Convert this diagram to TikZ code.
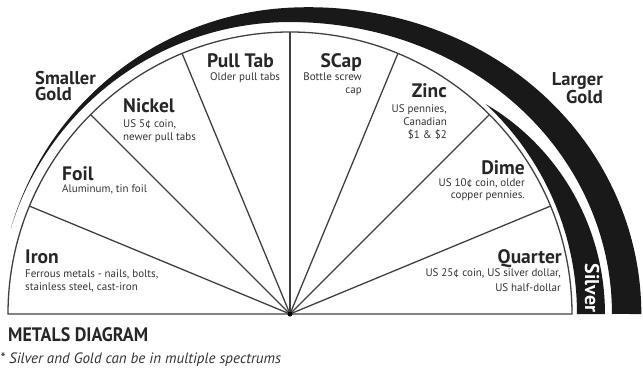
\documentclass[tikz,border=0pt]{standalone}
\usepackage{fontspec}
\setmainfont{PT Sans}
\newfontfamily\condfont[FakeStretch=0.92]{PT Sans}
\tikzset{
  head/.style={font=\fontsize{19.5}{15}\selectfont\bfseries, text=black!85, inner sep=0pt, text height=13.5pt, text depth=1pt},
  goldlab/.style={font=\fontsize{18.5}{16}\selectfont\bfseries, text=black!85, inner sep=0pt},
  sub/.style={font=\fontsize{11}{12}\selectfont, text=black!80, inner sep=0pt, text height=8pt, text depth=2pt},
  fan/.style={draw=black!75, line width=1.3pt},
  band/.style={fill=black!90},
  declare function={
    gin(\t)=292+30*max(cos(\t),0)*max(cos(\t),0);
    tg(\t)=15*(cos(\t)+0.9563);
    sout(\t)=287+28*(cos(\t)-0.6820)/0.318;
  }
}
\begin{document}
\begin{tikzpicture}[x=1pt,y=1pt]
\useasboundingbox (0,0) rectangle (643,-369);
\coordinate (c) at (290,-314);
% bands
\begin{scope}[shift={(c)}]
  \fill[band] plot[domain=0:163,samples=140] (\x:{gin(\x)+tg(\x)})
     -- plot[domain=163:0,samples=140] (\x:{gin(\x)}) -- cycle;
  \fill[band] plot[domain=0:47,samples=60] (\x:{sout(\x)})
     -- plot[domain=47:0,samples=60] (\x:287) -- cycle;
\end{scope}
% fan
\draw[fan] ([shift={(180:282)}]c) arc[start angle=180,end angle=0,radius=282] -- cycle;
\foreach \a in {22.5,45,67.5,90,112.5,135,157.5}
  \draw[fan] (c) -- ([shift={(\a:282)}]c);
\fill[black] (c) circle (2.5);
% gold labels
\node[goldlab, align=left, anchor=north west] (smaller) at (35,-71) {Smaller\\Gold};
\node[goldlab, align=right, anchor=north east] (larger) at (603,-72) {Larger\\Gold};
% silver
\node[font=\fontsize{20}{20}\selectfont\bfseries, text=white, rotate=-90, inner sep=0pt] (silver) at (592,-288) {Silver};
% sectors
\node[head, anchor=base west] (iron) at (25,-263) {Iron};
\node[sub, anchor=base west] (iron1) at (25,-277) {Ferrous metals - nails, bolts,};
\node[sub, anchor=base west] (iron2) at (25,-290) {stainless steel, cast-iron};
\node[head, anchor=base west] (foil) at (62,-180) {Foil};
\node[sub, anchor=base west] (foil1) at (62,-192) {Aluminum, tin foil};
\node[head, anchor=base west] (nickel) at (123,-112) {Nickel};
\node[sub, anchor=base west] (nickel1) at (123,-127) {US 5¢ coin,};
\node[sub, anchor=base west] (nickel2) at (123,-140) {newer pull tabs};
\node[head, anchor=base west] (pull) at (207,-67) {Pull Tab};
\node[sub, anchor=base west] (pull1) at (210,-81) {Older pull tabs};
\node[head, anchor=base east] (scap) at (362,-67) {SCap};
\node[sub, anchor=base east] (scap1) at (362,-81) {Bottle screw};
\node[sub, anchor=base east] (scap2) at (362,-94) {cap};
\node[head, anchor=base east] (zinc) at (447,-98) {Zinc};
\node[sub, anchor=base east] (zinc1) at (447,-112) {US pennies,};
\node[sub, anchor=base east] (zinc2) at (447,-125) {Canadian};
\node[sub, anchor=base east] (zinc3) at (447,-138) {\$1 \& \$2};
\node[head, anchor=base east] (dime) at (525,-174) {Dime};
\node[sub, anchor=base east] (dime1) at (525,-186) {US 10¢ coin, older};
\node[sub, anchor=base east] (dime2) at (525,-198) {copper pennies.};
\node[head, anchor=base east] (quarter) at (562,-263) {Quarter};
\node[sub, anchor=base east] (quarter1) at (561,-276) {US 25¢ coin, US silver dollar,};
\node[sub, anchor=base east] (quarter2) at (561,-291) {US half-dollar};
% title and note
\node[font=\condfont\fontsize{19.5}{20}\selectfont\bfseries, text=black!85, anchor=base west, inner sep=0pt] (title) at (8,-341) {METALS DIAGRAM};
\node[font=\fontsize{15}{15}\selectfont\itshape, text=black!80, anchor=base west, inner sep=0pt] (note) at (0,-363) {* Silver and Gold can be in multiple spectrums};
\end{tikzpicture}
\end{document}
